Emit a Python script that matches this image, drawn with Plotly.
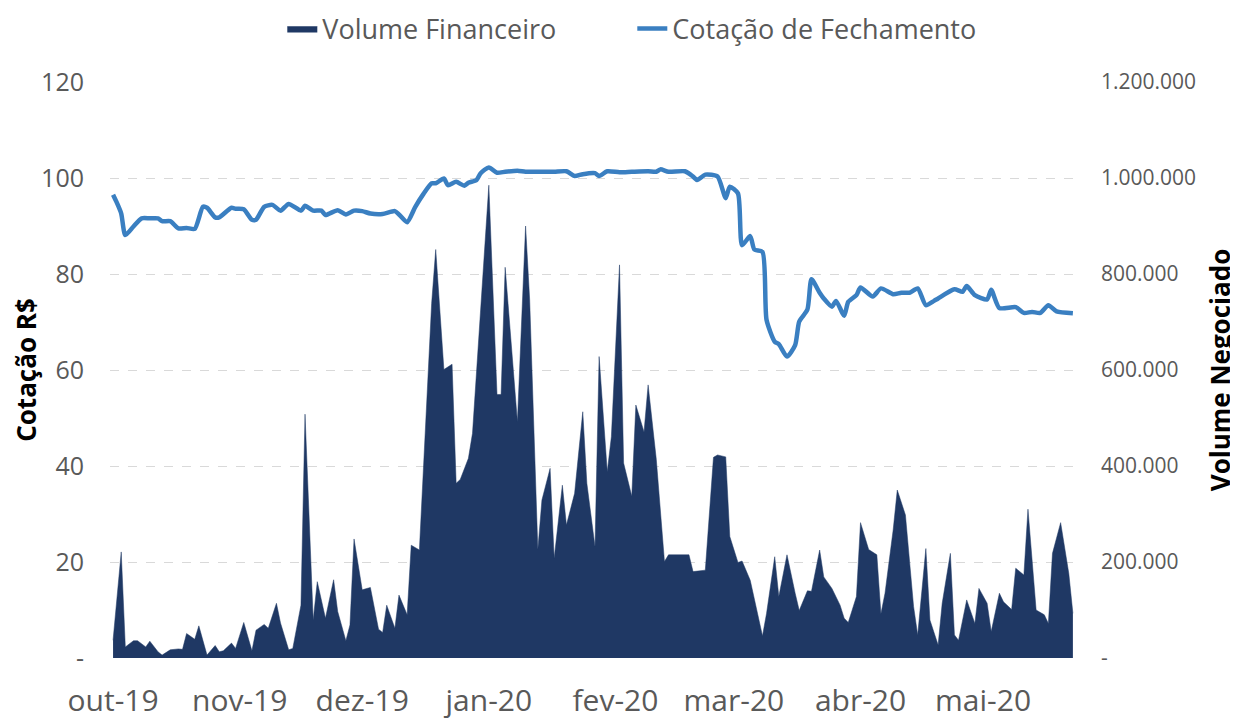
import datetime as dt
import plotly.graph_objects as go

# Days since 2019-10-01 (x position of each observation)
BASE = dt.date(2019, 10, 1)

vol_days = [0, 2, 3, 5, 6, 8, 9, 11, 12, 14, 16, 17, 18, 20, 21, 23, 25, 26, 27, 29, 30,
            32, 34, 35, 37, 38, 40, 41, 43, 44, 46, 47, 49, 50, 52, 54, 55, 57, 58, 59,
            61, 63, 65, 66, 67, 69, 70, 72, 73, 75, 78, 79, 81, 83, 84, 85, 87, 88,
            92, 94, 95, 96, 99, 101, 102, 104, 105, 107, 108, 110, 111, 113, 115, 116,
            118, 119, 121, 122, 124, 125, 127, 128, 130, 131, 133, 135, 136, 141, 142,
            145, 147, 148, 150, 151, 153, 154, 156, 157, 159, 160, 162, 163, 165, 167,
            168, 170, 171, 173, 174, 176, 178, 179, 180, 182, 183, 185, 187, 188, 189,
            191, 192, 194, 196, 197, 199, 200, 202, 203, 205, 206, 207, 209, 211, 212,
            214, 215, 217, 218, 220, 221, 223, 224, 226, 228, 229, 230, 232, 234, 235]

volume = [37000, 221000, 23000, 36000, 36000, 23000, 35000, 13000, 6000, 17000, 19000,
          18000, 51000, 39000, 67000, 6000, 26000, 13000, 15000, 31000, 20000,
          74000, 15000, 58000, 70000, 62000, 114000, 73000, 17000, 20000, 110000,
          508000, 79000, 159000, 83000, 163000, 97000, 36000, 69000, 248000,
          142000, 147000, 60000, 53000, 110000, 62000, 131000, 90000, 235000, 225000,
          739000, 851000, 601000, 612000, 364000, 372000, 416000, 468000,
          985000, 549000, 549000, 814000, 492000, 900000, 746000, 226000, 329000,
          395000, 208000, 360000, 277000, 343000, 513000, 364000,
          232000, 628000, 388000, 461000, 819000, 406000, 337000, 527000, 471000,
          569000, 414000, 201000, 215000, 215000, 180000,
          183000, 418000, 423000, 419000, 253000, 199000, 202000, 162000, 124000,
          46000, 93000, 211000, 128000, 215000, 135000,
          99000, 140000, 139000, 225000, 169000, 145000, 110000, 83000, 74000,
          128000, 282000, 226000, 215000, 92000, 135000,
          267000, 350000, 298000, 107000, 48000, 228000, 79000, 27000, 114000,
          218000, 48000, 37000, 121000, 72000, 145000,
          114000, 55000, 135000, 117000, 101000, 187000, 173000, 310000, 100000,
          90000, 72000, 218000, 282000, 176000, 93000]

price_days = [0, 1, 2, 3, 5, 7, 9, 11, 12, 14, 16, 18, 20, 22, 23, 25, 26, 29, 30, 32,
              34, 35, 37, 39, 41, 43, 46, 47, 49, 51, 52, 55, 57, 59, 61, 63, 66, 69,
              70, 72, 74, 76, 78, 79, 81, 82, 84, 86, 87, 89, 90, 92, 94, 96, 99,
              101, 105, 108, 111, 113, 115, 118, 119, 121, 124, 127, 131, 133, 134,
              136, 140, 142, 143, 145, 148, 150, 151, 153, 154, 156, 157, 159, 160,
              162, 163, 165, 167, 168, 170, 171, 173, 174, 176, 177, 179, 180, 182,
              183, 186, 188, 191, 193, 195, 197, 199, 201, 202, 206, 208, 209, 211,
              214, 215, 217, 221, 223, 225, 227, 229, 231, 235]

price = [96.5, 94.7, 92.6, 88.1, 89.9, 91.6, 91.6, 91.6, 91.0, 91.0, 89.5, 89.6, 89.4,
         94.0, 93.8, 91.8, 91.8, 93.8, 93.6, 93.5,
         91.3, 91.3, 94.0, 94.4, 93.2, 94.6, 93.2, 94.2, 93.2, 93.2, 92.3, 93.3, 92.4,
         93.2, 93.1, 92.6, 92.5, 93.1,
         92.4, 90.8, 94.0, 96.7, 98.9, 98.9, 99.9, 98.5, 99.2, 98.4, 99.0, 99.6,
         101.0, 102.2, 101.1, 101.3, 101.5,
         101.3, 101.3, 101.3, 101.4, 100.4, 100.8, 101.0, 100.4, 101.4, 101.2,
         101.3, 101.4, 101.3, 101.8,
         101.3, 101.4, 100.3, 99.6, 100.7, 100.3, 95.8, 98.2, 96.8, 86.0, 87.9,
         85.1, 84.6, 70.4,
         65.9, 65.4, 62.8, 65.2, 70.1, 72.6, 78.9, 76.1, 74.9, 73.2, 74.4, 71.3,
         74.2, 75.6,
         77.2, 75.3, 77.0, 75.8, 76.1, 76.1, 77.0, 73.5, 74.4, 74.9, 76.8, 76.3,
         77.5, 75.6,
         74.7, 76.7, 72.9, 73.1, 71.9, 72.1, 71.9, 73.5, 72.2, 71.8]

month_ticks = ["2019-10-01", "2019-11-01", "2019-12-01", "2020-01-01",
               "2020-02-01", "2020-03-01", "2020-04-01", "2020-05-01"]
month_labels = ["out-19", "nov-19", "dez-19", "jan-20", "fev-20", "mar-20", "abr-20", "mai-20"]

price_ticks = [0, 20, 40, 60, 80, 100, 120]
price_labels = ["-", "20", "40", "60", "80", "100", "120"]
vol_ticks = [0, 200000, 400000, 600000, 800000, 1000000, 1200000]
vol_labels = ["-", "200.000", "400.000", "600.000", "800.000", "1.000.000", "1.200.000"]

vol_dates = [(BASE + dt.timedelta(days=d)).isoformat() for d in vol_days]
price_dates = [(BASE + dt.timedelta(days=d)).isoformat() for d in price_days]

GRAY = "#595959"
FONT = "Open Sans"
# the page body adds an 8px offset; the figure is sized to fill the rest of the window
OFF = 8
W, H = 1238 - OFF, 722 - OFF
L_M, R_M, TOP_M, BOT_M = 110 - OFF, 160, 10 - OFF, 64
PLOT_TOP = 82 - OFF
DOMAIN_TOP = (H - BOT_M - PLOT_TOP) / (H - TOP_M - BOT_M)
LEG_Y = (H - BOT_M - (29 - OFF)) / (H - TOP_M - BOT_M)

fig = go.Figure()
fig.add_trace(go.Scatter(
    x=vol_dates, y=volume, name="Volume Financeiro", mode="lines",
    fill="tozeroy", fillcolor="#1F3864", line=dict(color="#1F3864", width=0.5),
    yaxis="y", legendwidth=305))
fig.add_trace(go.Scatter(
    x=price_dates, y=price, name="Cotação de Fechamento", mode="lines",
    line=dict(color="#3A7FC1", width=4.5, shape="spline", smoothing=0.6),
    yaxis="y2", legendwidth=360))

fig.update_layout(
    width=W, height=H,
    margin=dict(l=L_M, r=R_M, t=TOP_M, b=BOT_M, autoexpand=False),
    paper_bgcolor="white", plot_bgcolor="white",
    font=dict(family=FONT, color=GRAY),
    showlegend=True,
    legend=dict(orientation="h", x=0.178, xanchor="left", y=LEG_Y, yanchor="middle",
                font=dict(size=27, color=GRAY, family=FONT), traceorder="normal"),
    xaxis=dict(type="date", range=["2019-09-30 06:00", "2020-05-24 06:00"],
               tickvals=month_ticks, ticktext=month_labels, showgrid=False,
               zeroline=False, showline=False, ticks="", automargin=False,
               tickfont=dict(size=30, color=GRAY, family=FONT), ticklabelstandoff=22),
    yaxis=dict(side="right", range=[0, 1200000], domain=[0, DOMAIN_TOP],
               tickvals=vol_ticks, ticktext=vol_labels,
               showgrid=True, gridcolor="#D9D9D9", griddash="dash", gridwidth=1.3,
               zeroline=False, showline=False, ticks="", automargin=False,
               tickfont=dict(size=21, color=GRAY, family=FONT), ticklabelstandoff=22,
               title=dict(text="<b>Volume Negociado</b>", standoff=16,
                          font=dict(size=26, color="black", family=FONT))),
    yaxis2=dict(side="left", overlaying="y", range=[0, 120], tickvals=price_ticks,
                ticktext=price_labels, showgrid=False, zeroline=False, showline=False,
                ticks="", automargin=False,
                tickfont=dict(size=25, color=GRAY, family=FONT), ticklabelstandoff=25,
                title=dict(text="<b>Cotação R$</b>", standoff=0,
                           font=dict(size=26, color="black", family=FONT))),
)

fig.write_html("out.html")
